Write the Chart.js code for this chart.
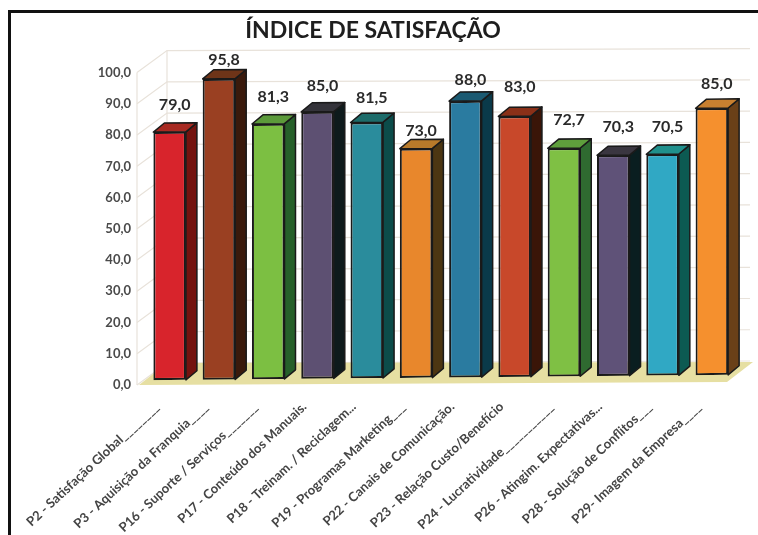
<!DOCTYPE html>
<html><head><meta charset="utf-8">
<script src="https://cdn.jsdelivr.net/npm/chart.js@4"></script>
<style>
html,body{margin:0;padding:0;background:#fff;overflow:hidden}
#wrap{position:relative;width:758px;height:535px;overflow:hidden}
#frame{position:absolute;left:8px;top:10px;width:760px;height:540px;border-top:3px solid #111;border-left:3px solid #111;pointer-events:none}
canvas{position:absolute;left:0;top:0}
</style></head><body>
<div id="wrap"><canvas id="c" width="758" height="535"></canvas><div id="frame"></div></div>
<script>
const categories = ["P2 - Satisfação Global________","P3 - Aquisição da Franquia____","P16 - Suporte / Serviços_______","P17 - Conteúdo dos Manuais.","P18 - Treinam. / Reciclagem...","P19 - Programas Marketing___","P22 - Canais de Comunicação.","P23 - Relação Custo/Benefício","P24 - Lucratividade___________","P26 - Atingim. Expectativas...","P28 - Solução de Conflitos___","P29- Imagem da Empresa____"];
const values = [79.0,95.8,81.3,85.0,81.5,73.0,88.0,83.0,72.7,70.3,70.5,85.0];
const frontColors = ["#d8242c","#9a4022","#7cbf42","#5d5072","#2a8c9c","#e8872c","#2a7ba0","#c8482a","#7fc044","#5f5278","#30a8c4","#f5902e"];
const sideColors = ["#74130f","#3a1a0c","#26602a","#0e1a1c","#0c4c4a","#4c3612","#0a3a4a","#3a1508","#2f6a30","#0a1e20","#0c5a52","#6a4018"];
const topColors = ["#a82a22","#6e3418","#5c9a3a","#34333a","#1d6c6a","#b87a2a","#1b5a72","#8a3018","#5f9f3c","#3a3640","#20908c","#c88030"];
const labelGaps = [27,19,27,26,24,18,21,29,28,28,27,24];

const depthX = 11, depthY = 9, tilt = -0.0092, lift = 5, stretch = 1.005;
const fmt = v => v.toFixed(1).replace('.', ',');
const threeD = {
  id:'threeD',
  beforeDraw(chart){
    const {ctx, scales:{y}, chartArea:a} = chart;
    ctx.save();
    ctx.strokeStyle = '#e8e2da'; ctx.lineWidth = 1.2;
    const wx = a.left + 22, wd = 22;
    y.ticks.forEach(t=>{
      const py = y.getPixelForValue(t.value);
      ctx.beginPath(); ctx.moveTo(a.left-8,py); ctx.lineTo(wx,py-wd);
      ctx.lineTo(750,py-wd-2); ctx.stroke();
    });
    ctx.beginPath(); ctx.moveTo(a.left-8,y.getPixelForValue(100)); ctx.lineTo(a.left-8,y.getPixelForValue(0)); ctx.stroke();
    ctx.beginPath(); ctx.moveTo(wx,y.getPixelForValue(100)-wd); ctx.lineTo(wx,y.getPixelForValue(0)-wd); ctx.stroke();
    ctx.fillStyle = '#e6dfa2';
    const by = y.getPixelForValue(0);
    ctx.beginPath(); ctx.moveTo(a.left-6,by); ctx.lineTo(wx,by-wd);
    ctx.lineTo(753,362); ctx.lineTo(727,382); ctx.closePath(); ctx.fill();
    ctx.restore();
  },
  beforeDatasetsDraw(chart){
    const {ctx, scales:{y}} = chart;
    const x0 = chart.getDatasetMeta(0).data[0].x, by = y.getPixelForValue(0);
    ctx.save();
    ctx.transform(1,tilt,0,stretch,0,-lift-tilt*x0+(1-stretch)*by);
    ctx.lineJoin='round'; ctx.lineWidth=1.5; ctx.strokeStyle='#1a1a1a';
    chart.getDatasetMeta(0).data.forEach((b,i)=>{
      const w=b.width/2, L=b.x-w, R=b.x+w, T=b.y, B=b.base;
      ctx.fillStyle=sideColors[i];
      ctx.beginPath(); ctx.moveTo(R,T); ctx.lineTo(R+depthX,T-depthY); ctx.lineTo(R+depthX,B-depthY); ctx.lineTo(R,B); ctx.closePath(); ctx.fill(); ctx.stroke();
      ctx.fillStyle=topColors[i];
      ctx.beginPath(); ctx.moveTo(L,T); ctx.lineTo(L+depthX,T-depthY); ctx.lineTo(R+depthX,T-depthY); ctx.lineTo(R,T); ctx.closePath(); ctx.fill(); ctx.stroke();
    });
  },
  afterDatasetsDraw(chart){
    const {ctx, scales:{y}} = chart;
    ctx.restore();
    const x0 = chart.getDatasetMeta(0).data[0].x, by = y.getPixelForValue(0);
    ctx.save();
    ctx.font='bold 16px Lato'; ctx.fillStyle='#2a2a2a'; ctx.textAlign='center'; ctx.textBaseline='middle';
    chart.getDatasetMeta(0).data.forEach((b,i)=>{
      const top = by+(b.y-by)*stretch-lift+tilt*(b.x-x0);
      ctx.fillText(fmt(values[i]), b.x+5, top-labelGaps[i]);
    });
    ctx.restore();
  }
};
new Chart(document.getElementById('c'),{
  type:'bar',
  data:{labels:categories,datasets:[{data:values,backgroundColor:frontColors,borderColor:'#1a1a1a',borderWidth:2,borderSkipped:false,barPercentage:1,categoryPercentage:0.66,clip:false}]},
  plugins:[threeD],
  options:{
    responsive:false,animation:false,
    layout:{padding:{left:9.5,right:21.5,top:0,bottom:0}},
    plugins:{
      legend:{display:false},tooltip:{enabled:false},
      title:{display:true,text:'ÍNDICE DE SATISFAÇÃO',color:'#1e1e1e',font:{family:'Lato',size:23,weight:'bold',lineHeight:1.2},padding:{top:17,bottom:28}}
    },
    scales:{
      x:{
        afterFit(s){s.height=150;},
        grid:{display:false,drawTicks:false},border:{display:false},
        ticks:{autoSkip:false,minRotation:43,maxRotation:43,labelOffset:-13,padding:14,color:'#444',font:{family:'Lato',size:13,weight:'bold'}}
      },
      y:{
        min:0,max:100,
        afterFit(s){s.width=135.5;},
        grid:{display:false,drawTicks:false},border:{display:false},
        ticks:{stepSize:10,padding:14,color:'#4a4a4a',font:{family:'Lato',size:13,weight:'bold'},callback:v=>fmt(v)}
      }
    }
  }
});
</script></body></html>
